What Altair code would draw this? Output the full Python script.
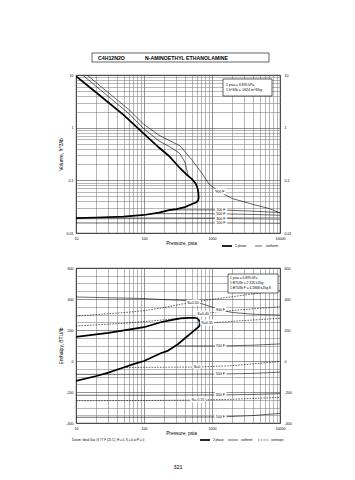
import altair as alt
import pandas as pd

FONT = "Liberation Sans"

# ---------------- top chart (Volume vs Pressure) ----------------
sat_vap_P = [10, 20, 50, 100, 166, 233, 339, 420, 508, 580, 615, 630, 636]
sat_vap_v = [9.5, 4.6, 1.75, 0.76, 0.42, 0.29, 0.17, 0.13, 0.105, 0.085, 0.07, 0.058, 0.05]
sat_liq_P = [634, 626, 610, 580, 508, 400, 300, 233, 166, 100, 50, 20, 10]
sat_liq_v = [0.045, 0.042, 0.040, 0.038, 0.0356, 0.031, 0.0285, 0.0272, 0.0244, 0.022, 0.0205, 0.0197, 0.0192]

iso900_P = [14.5, 30, 60, 100, 166, 250, 339, 500, 700, 904, 1300, 2000, 4000, 7000, 10000]
iso900_v = [10, 4.6, 2.2, 1.15, 0.72, 0.55, 0.45, 0.25, 0.14, 0.085, 0.06, 0.045, 0.035, 0.029, 0.024]
iso700v_P = [12.5, 30, 60, 100, 166, 250, 339, 400, 445]
iso700v_v = [10, 3.9, 1.85, 0.95, 0.56, 0.42, 0.32, 0.22, 0.125]
iso700l_P = [233, 600, 1350, 4000, 10000]
iso700l_v = [0.0275, 0.0275, 0.0274, 0.026, 0.0245]
iso500l_P = [120, 500, 1350, 4000, 10000]
iso500l_v = [0.0233, 0.0233, 0.0232, 0.0225, 0.0218]
iso300l_P = [10, 100, 1350, 4000, 10000]
iso300l_v = [0.0187, 0.0187, 0.0188, 0.0186, 0.0184]
iso100l_P = [10, 100, 1350, 4000, 10000]
iso100l_v = [0.0155, 0.0155, 0.0155, 0.0154, 0.0153]

top_lab_text = ["900 F", "700 F", "500 F", "300 F", "100 F"]
top_lab_P = [1300, 1350, 1350, 1350, 1350]
top_lab_v = [0.06, 0.0274, 0.0232, 0.0188, 0.0155]

# ---------------- bottom chart (Enthalpy vs Pressure) ----------------
dome_vap_P = [10, 30, 100, 176, 250, 344, 451, 560, 611, 645, 660]
dome_vap_H = [155, 182, 218, 250, 264, 275, 278, 279, 274, 262, 245]
dome_liq_P = [655, 633, 539, 420, 318, 222, 176, 100, 70, 50, 30, 20, 10]
dome_liq_H = [228, 220, 194, 155, 110, 65, 50, 0, -20, -42, -75, -97, -129]

t900_P = [10, 100, 176, 344, 500, 700, 1000, 1330, 2000, 4000, 10000]
t900_H = [413, 403, 397, 392, 385, 370, 348, 329, 313, 302, 296]
t700_P = [300, 600, 1330, 4000, 10000]
t700_H = [97, 97, 97, 102, 110]
t500_P = [10, 100, 1330, 4000, 10000]
t500_H = [-86, -86, -84, -80, -72]
t300_P = [10, 100, 1330, 4000, 10000]
t300_H = [-221, -221, -219, -216, -211]
t100_P = [10, 100, 1330, 4000, 10000]
t100_H = [-363, -363, -361, -352, -338]

s050_P = [10, 50, 100, 200, 344, 525, 1000, 2000, 5000, 10000]
s050_H = [290, 312, 325, 345, 366, 378, 398, 415, 438, 455]
s040a_P = [10, 50, 100, 200, 330]
s040a_H = [226, 243, 254, 266, 276]
s040b_P = [700, 1000, 2000, 5000, 10000]
s040b_H = [300, 312, 326, 340, 350]
s035_P = [665, 1000, 2000, 5000, 10000]
s035_H = [240, 246, 256, 267, 276]
s0_P = [50, 100, 600, 2000, 10000]
s0_H = [-42, -41, -39, -30, -3]
sm015_P = [10, 100, 620, 2000, 5000, 10000]
sm015_H = [-256, -255, -252, -247, -240, -235]

bot_lab_text = ["900 F", "S=0.50", "S=0.40", "S=0.35", "700 F", "S=0", "500 F", "300 F", "S=-0.15", "100 F"]
bot_lab_P = [1330, 525, 740, 845, 1330, 600, 1330, 1330, 620, 1330]
bot_lab_H = [329, 372, 303, 242, 97, -39, -84, -219, -252, -361]

# ---------------- axis tick values ----------------
XV = [10, 20, 30, 40, 50, 60, 70, 80, 90, 100, 200, 300, 400, 500, 600, 700, 800, 900,
      1000, 2000, 3000, 4000, 5000, 6000, 7000, 8000, 9000, 10000]
YV_TOP = [0.01, 0.02, 0.03, 0.04, 0.05, 0.06, 0.07, 0.08, 0.09, 0.1, 0.2, 0.3, 0.4, 0.5,
          0.6, 0.7, 0.8, 0.9, 1, 2, 3, 4, 5, 6, 7, 8, 9, 10]
YV_TOP_MAJOR = [0.01, 0.1, 1, 10]
YV_BOT = [-400, -350, -300, -250, -200, -150, -100, -50, 0, 50, 100, 150, 200, 250, 300,
          350, 400, 450, 500, 550, 600]
YV_BOT_MAJOR = [-400, -200, 0, 200, 400, 600]


def lines_df(named):
    rows = []
    for name, (P, Y) in named.items():
        for i, (p, y) in enumerate(zip(P, Y)):
            rows.append({"s": name, "i": i, "P": p, "Y": y})
    return pd.DataFrame(rows)


W = 204
H_TOP = 158
H_BOT = 155

xscale = alt.Scale(type="log", domain=[10, 10000], nice=False)
ytop_scale = alt.Scale(type="log", domain=[0.01, 10], nice=False)
ybot_scale = alt.Scale(type="linear", domain=[-400, 600], nice=False, zero=False)

MAJ = "#3a3a3a"
MIN = "#7a7a7a"

LBL = dict(ticks=False, domain=False, labelFont=FONT, labelFontSize=3.6, labelColor="black",
           labelOverlap=False, labelFlush=False, labelBound=False,
           titleFont=FONT, titleFontWeight="normal", titleColor="black")


def x_axis():
    return alt.Axis(values=XV,
                    labelExpr="indexof([10,100,1000,10000], datum.value) >= 0 ? datum.value + '' : ''",
                    grid=True, gridWidth=0.55,
                    gridColor={"condition": {"test": "indexof([10,100,1000,10000], datum.value) >= 0",
                                             "value": MAJ}, "value": MIN},
                    labelPadding=3, title="Pressure,  psia", titleFontSize=4.8,
                    titleX=105, titleY=10, titleBaseline="middle", **LBL)


def left_axis_layer(values, major, scale, title, height, major_test):
    return alt.Chart(pd.DataFrame({"Y": values})).mark_point(opacity=0).encode(
        x=alt.value(0),
        y=alt.Y("Y:Q", scale=scale, axis=alt.Axis(
            orient="left", values=values,
            labelExpr=f"{major_test} ? datum.value + '' : ''",
            grid=True, gridWidth=0.55,
            gridColor={"condition": {"test": major_test, "value": MAJ}, "value": MIN},
            labelPadding=3, title=title, titleFontSize=5, titleX=-16, titleY=height / 2,
            titleAngle=-90, titleBaseline="middle", titleAlign="center", **LBL)))


def right_axis_layer(values, scale):
    return alt.Chart(pd.DataFrame({"Y": values})).mark_point(opacity=0).encode(
        x=alt.value(0),
        y=alt.Y("Y:Q", scale=scale, axis=alt.Axis(
            orient="right", values=values, labelExpr="datum.value + ''", grid=False,
            labelPadding=4, title=None, **LBL)))


def YN(sc):
    return alt.Y("Y:Q", scale=sc, axis=None)


def halo_labels(df, ysc):
    base = alt.Chart(df)
    halo = base.mark_text(font=FONT, fontSize=3.6, stroke="white", strokeWidth=3,
                          fill="white").encode(x=alt.X("P:Q", scale=xscale), y=YN(ysc), text="t:N")
    txt = base.mark_text(font=FONT, fontSize=3.6, color="black").encode(
        x=alt.X("P:Q", scale=xscale), y=YN(ysc), text="t:N")
    return [halo, txt]


one = pd.DataFrame({"a": [0]})


def box(x1, x2, y1, y2):
    return alt.Chart(one).mark_rect(fill="white", stroke="black", strokeWidth=0.6).encode(
        x=alt.value(x1), x2=alt.value(x2), y=alt.value(y1), y2=alt.value(y2))


def label(text, x, y, size=3.5, align="left", weight="normal"):
    return alt.Chart(one).mark_text(text=text, font=FONT, fontSize=size, align=align,
                                    baseline="middle", fontWeight=weight, color="black").encode(
        x=alt.value(x), y=alt.value(y))


def seg(x1, x2, y, width=0.6, dash=None):
    kw = dict(color="black", strokeWidth=width)
    if dash:
        kw["strokeDash"] = dash
    return alt.Chart(one).mark_rule(**kw).encode(x=alt.value(x1), x2=alt.value(x2), y=alt.value(y))


# ---------------- build top ----------------
sat_top = lines_df({"sat": (sat_vap_P + sat_liq_P, sat_vap_v + sat_liq_v)})
thin_top = lines_df({
    "i900": (iso900_P, iso900_v), "i700v": (iso700v_P, iso700v_v),
    "i700l": (iso700l_P, iso700l_v), "i500l": (iso500l_P, iso500l_v),
    "i300l": (iso300l_P, iso300l_v), "i100l": (iso100l_P, iso100l_v)})

top_main = alt.Chart(thin_top).mark_line(color="black", strokeWidth=0.6, clip=True).encode(
    x=alt.X("P:Q", scale=xscale, axis=x_axis()), y=YN(ytop_scale),
    detail="s:N", order="i:Q")
top_sat = alt.Chart(sat_top).mark_line(color="black", strokeWidth=1.7, clip=True).encode(
    x=alt.X("P:Q", scale=xscale), y=YN(ytop_scale), order="i:Q")

top_labels = pd.DataFrame({"t": top_lab_text, "P": top_lab_P, "Y": top_lab_v})

top_inner = alt.layer(
    top_main, top_sat, *halo_labels(top_labels, ytop_scale),
    box(16, 193, -22, -13),
    label("C4H12N2O", 22, -17.5, size=5.2, weight="bold"),
    label("N-AMINOETHYL ETHANOLAMINE", 69, -17.5, size=5.2, weight="bold"),
    box(147, 196, 4, 21),
    label("1 psia = 6.895 kPa", 150, 10, size=3.4),
    label("1 ft^3/lb = .0624 m^3/kg", 150, 15, size=3.4),
    seg(146, 156, 171, width=1.7), label("2 phase", 159, 171, size=3.2),
    seg(179, 186, 171, width=0.6), label("isotherm", 190, 171, size=3.2),
)

top = alt.layer(
    left_axis_layer(YV_TOP, YV_TOP_MAJOR, ytop_scale, "Volume, ft^3/lb", H_TOP,
                    "indexof([0.01,0.1,1,10], datum.value) >= 0"),
    top_inner,
    right_axis_layer(YV_TOP_MAJOR, ytop_scale),
).resolve_scale(y="independent").properties(width=W, height=H_TOP)

# ---------------- build bottom ----------------
dome = lines_df({"dome": (dome_vap_P + dome_liq_P, dome_vap_H + dome_liq_H)})
iso_bot = lines_df({"t900": (t900_P, t900_H), "t700": (t700_P, t700_H),
                    "t500": (t500_P, t500_H), "t300": (t300_P, t300_H),
                    "t100": (t100_P, t100_H)})
isen_bot = lines_df({"s050": (s050_P, s050_H), "s040a": (s040a_P, s040a_H),
                     "s040b": (s040b_P, s040b_H), "s035": (s035_P, s035_H),
                     "s0": (s0_P, s0_H), "sm015": (sm015_P, sm015_H)})

bot_main = alt.Chart(iso_bot).mark_line(color="black", strokeWidth=0.6, clip=True).encode(
    x=alt.X("P:Q", scale=xscale, axis=x_axis()), y=YN(ybot_scale),
    detail="s:N", order="i:Q")
bot_isen = alt.Chart(isen_bot).mark_line(color="black", strokeWidth=0.6, strokeDash=[1.6, 1.2],
                                         clip=True).encode(
    x=alt.X("P:Q", scale=xscale), y=YN(ybot_scale), detail="s:N", order="i:Q")
bot_dome = alt.Chart(dome).mark_line(color="black", strokeWidth=1.7, clip=True).encode(
    x=alt.X("P:Q", scale=xscale), y=YN(ybot_scale), order="i:Q")

bot_labels = pd.DataFrame({"t": bot_lab_text, "P": bot_lab_P, "Y": bot_lab_H})

bot_inner = alt.layer(
    bot_main, bot_isen, bot_dome, *halo_labels(bot_labels, ybot_scale),
    box(152, 202, 6, 25),
    label("1 psia = 6.895 kPa", 154, 10, size=3.3),
    label("1 BTU/lb = 2.326 kJ/kg", 154, 15, size=3.3),
    label("1 BTU/lb F = 4.1868 kJ/kg K", 154, 20, size=3.3),
    label("Datum: Ideal Gas @ 77 F (25 C), H = 0, S = 0 at P = 0", -4, 172, size=3.0),
    seg(124, 134, 172, width=1.7), label("2 phase", 137, 172, size=3.0),
    seg(152, 162, 172, width=0.6), label("isotherm", 165, 172, size=3.0),
    seg(182, 192, 172, width=0.6, dash=[1.6, 1.2]), label("isentrope", 195, 172, size=3.0),
    label("321", 102, 199, size=5.5, align="center"),
)

bottom = alt.layer(
    left_axis_layer(YV_BOT, YV_BOT_MAJOR, ybot_scale, "Enthalpy, BTU/lb", H_BOT,
                    "indexof([-400,-200,0,200,400,600], datum.value) >= 0"),
    bot_inner,
    right_axis_layer(YV_BOT_MAJOR, ybot_scale),
).resolve_scale(y="independent").properties(width=W, height=H_BOT)

chart = alt.vconcat(top, bottom, spacing=35, bounds="flush").properties(
    padding={"left": 57, "top": 52, "right": 5, "bottom": 5},
    background="white",
).configure_view(stroke="black", strokeWidth=0.8).configure_axis(
    titleColor="black", labelColor="black", titleFontWeight="normal", labelOverlap=False
)

chart.save("out.html", embed_options={"renderer": "svg", "actions": False})
